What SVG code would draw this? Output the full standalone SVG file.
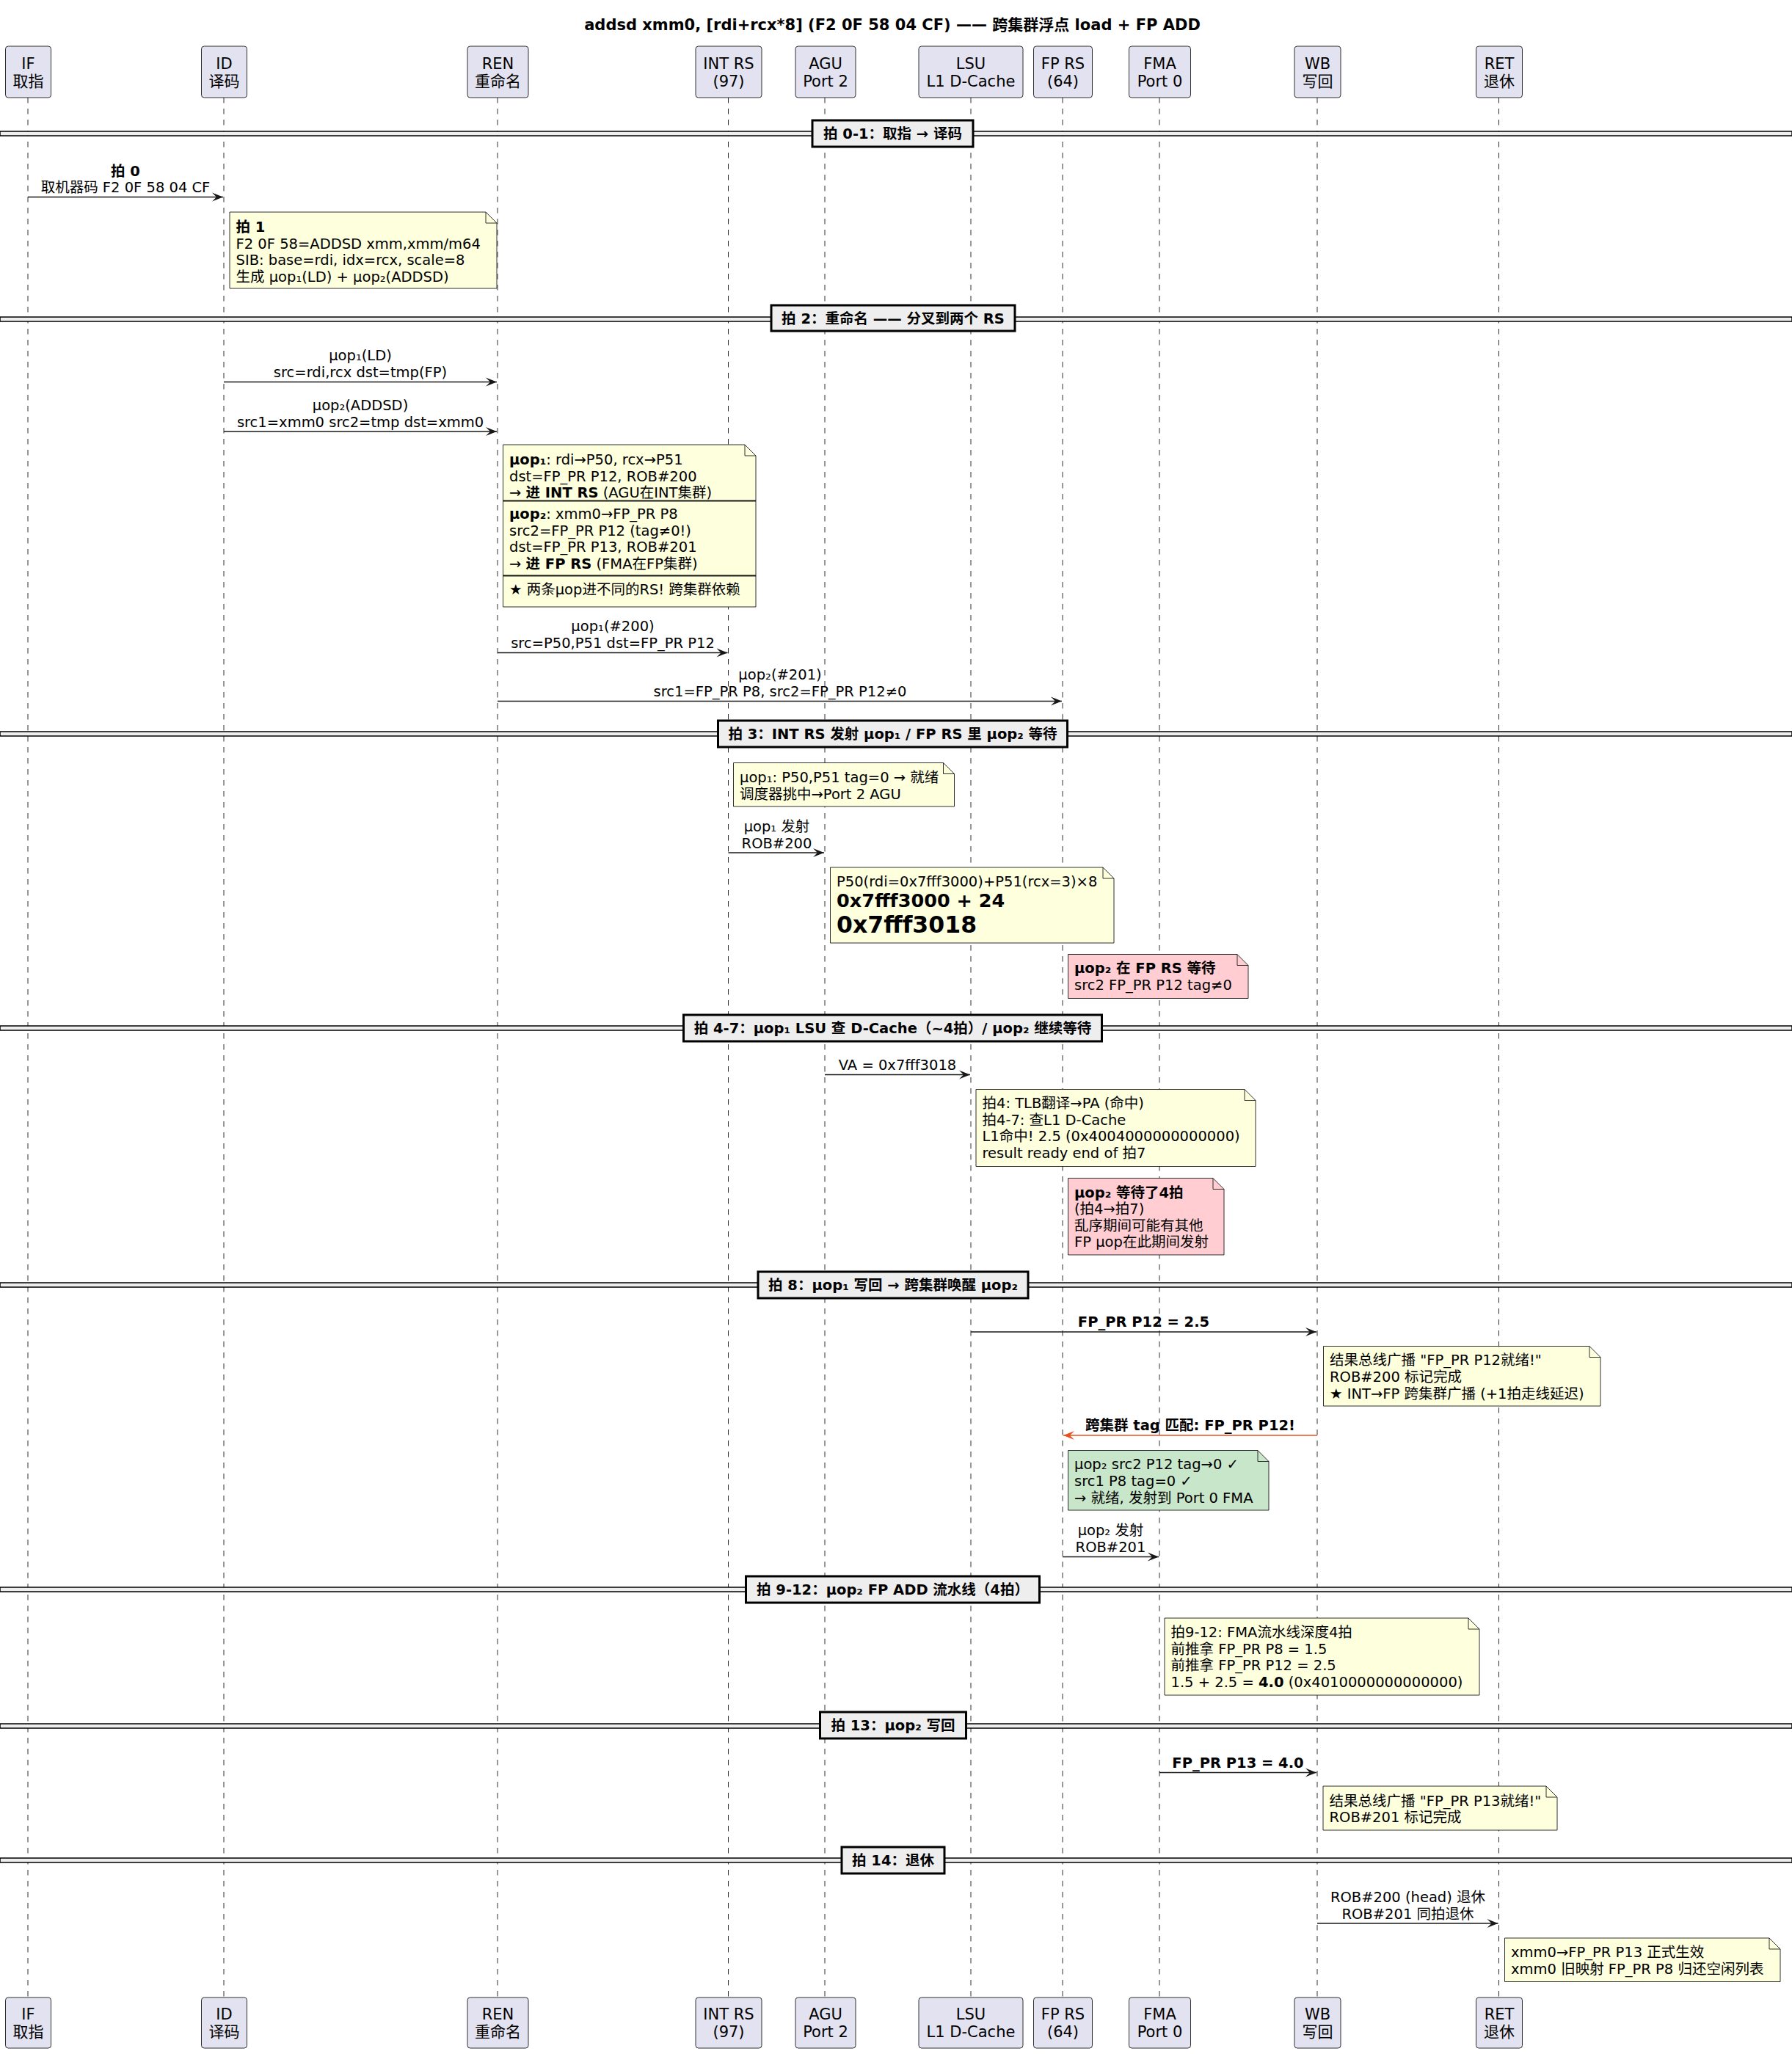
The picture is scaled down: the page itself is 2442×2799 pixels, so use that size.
<svg xmlns="http://www.w3.org/2000/svg" width="2442" height="2799" viewBox="0 0 2442 2799">
<style>
text{font-family:"DejaVu Sans","Noto Sans CJK SC",sans-serif;fill:#000}
.t{font-size:19.5px}
.b{font-weight:bold}
.m{text-anchor:middle}
.title{font-size:21px;font-weight:bold;text-anchor:middle}
.pt{font-size:21px;text-anchor:middle}
.pbox{fill:#E2E2F0;stroke:#181818;stroke-width:0.9}
.life{stroke:#181818;stroke-width:0.9;stroke-dasharray:7.5,7.5;fill:none}
.sepl{fill:#EEEEEE;stroke:#000;stroke-width:1.5}
.sepb{fill:#EEEEEE;stroke:#000;stroke-width:3}
.note{fill:#FEFFDD;stroke:#181818;stroke-width:0.9}
.pink{fill:#FFCDD2;stroke:#181818;stroke-width:0.9}
.green{fill:#C8E6C9;stroke:#181818;stroke-width:0.9}
.fold{fill:none;stroke:#181818;stroke-width:0.9}
.msg{stroke:#181818;stroke-width:1.5;fill:none;marker-end:url(#ah)}
.red{stroke:#E8501F;stroke-width:1.5;fill:none;marker-end:url(#ahr)}
</style>
<defs>
<marker id="ah" viewBox="-16 -7 17 14" refX="0" refY="0" markerWidth="17" markerHeight="14" markerUnits="userSpaceOnUse" orient="auto"><path d="M0,0 L-15,-6 L-9,0 L-15,6 Z" fill="#181818"/></marker>
<marker id="ahr" viewBox="-16 -7 17 14" refX="0" refY="0" markerWidth="17" markerHeight="14" markerUnits="userSpaceOnUse" orient="auto"><path d="M0,0 L-15,-6 L-9,0 L-15,6 Z" fill="#E8501F"/></marker>
</defs>
<rect x="0" y="0" width="2442" height="2799" fill="#FFFFFF"/>
<text class="title" x="1216" y="41">addsd xmm0, [rdi+rcx*8] (F2 0F 58 04 CF) —— 跨集群浮点 load + FP ADD</text>

<g id="lifelines">
<line class="life" x1="38" y1="133" x2="38" y2="2722"/>
<line class="life" x1="305" y1="133" x2="305" y2="2722"/>
<line class="life" x1="678" y1="133" x2="678" y2="2722"/>
<line class="life" x1="992.5" y1="133" x2="992.5" y2="2722"/>
<line class="life" x1="1124" y1="133" x2="1124" y2="2722"/>
<line class="life" x1="1323" y1="133" x2="1323" y2="2722"/>
<line class="life" x1="1448" y1="133" x2="1448" y2="2722"/>
<line class="life" x1="1580" y1="133" x2="1580" y2="2722"/>
<line class="life" x1="1795" y1="133" x2="1795" y2="2722"/>
<line class="life" x1="2042.5" y1="133" x2="2042.5" y2="2722"/>
</g>

<g id="p-IF">
<rect class="pbox" x="7.5" y="63" width="62" height="70" rx="3.75"/>
<text class="pt" x="38.5" y="94">IF</text><text class="pt" x="38.5" y="118">取指</text>
<rect class="pbox" x="7.5" y="2722" width="62" height="69" rx="3.75"/>
<text class="pt" x="38.5" y="2752">IF</text><text class="pt" x="38.5" y="2776">取指</text>
</g>
<g id="p-ID">
<rect class="pbox" x="274.5" y="63" width="62" height="70" rx="3.75"/>
<text class="pt" x="305.5" y="94">ID</text><text class="pt" x="305.5" y="118">译码</text>
<rect class="pbox" x="274.5" y="2722" width="62" height="69" rx="3.75"/>
<text class="pt" x="305.5" y="2752">ID</text><text class="pt" x="305.5" y="2776">译码</text>
</g>
<g id="p-REN">
<rect class="pbox" x="637" y="63" width="83" height="70" rx="3.75"/>
<text class="pt" x="678.5" y="94">REN</text><text class="pt" x="678.5" y="118">重命名</text>
<rect class="pbox" x="637" y="2722" width="83" height="69" rx="3.75"/>
<text class="pt" x="678.5" y="2752">REN</text><text class="pt" x="678.5" y="2776">重命名</text>
</g>
<g id="p-INTRS">
<rect class="pbox" x="948" y="63" width="90" height="70" rx="3.75"/>
<text class="pt" x="993" y="94">INT RS</text><text class="pt" x="993" y="118">(97)</text>
<rect class="pbox" x="948" y="2722" width="90" height="69" rx="3.75"/>
<text class="pt" x="993" y="2752">INT RS</text><text class="pt" x="993" y="2776">(97)</text>
</g>
<g id="p-AGU">
<rect class="pbox" x="1084" y="63" width="82" height="70" rx="3.75"/>
<text class="pt" x="1125" y="94">AGU</text><text class="pt" x="1125" y="118">Port 2</text>
<rect class="pbox" x="1084" y="2722" width="82" height="69" rx="3.75"/>
<text class="pt" x="1125" y="2752">AGU</text><text class="pt" x="1125" y="2776">Port 2</text>
</g>
<g id="p-LSU">
<rect class="pbox" x="1252" y="63" width="142" height="70" rx="3.75"/>
<text class="pt" x="1323" y="94">LSU</text><text class="pt" x="1323" y="118">L1 D-Cache</text>
<rect class="pbox" x="1252" y="2722" width="142" height="69" rx="3.75"/>
<text class="pt" x="1323" y="2752">LSU</text><text class="pt" x="1323" y="2776">L1 D-Cache</text>
</g>
<g id="p-FPRS">
<rect class="pbox" x="1408.5" y="63" width="80" height="70" rx="3.75"/>
<text class="pt" x="1448.5" y="94">FP RS</text><text class="pt" x="1448.5" y="118">(64)</text>
<rect class="pbox" x="1408.5" y="2722" width="80" height="69" rx="3.75"/>
<text class="pt" x="1448.5" y="2752">FP RS</text><text class="pt" x="1448.5" y="2776">(64)</text>
</g>
<g id="p-FMA">
<rect class="pbox" x="1538.5" y="63" width="84" height="70" rx="3.75"/>
<text class="pt" x="1580.5" y="94">FMA</text><text class="pt" x="1580.5" y="118">Port 0</text>
<rect class="pbox" x="1538.5" y="2722" width="84" height="69" rx="3.75"/>
<text class="pt" x="1580.5" y="2752">FMA</text><text class="pt" x="1580.5" y="2776">Port 0</text>
</g>
<g id="p-WB">
<rect class="pbox" x="1764" y="63" width="63" height="70" rx="3.75"/>
<text class="pt" x="1795.5" y="94">WB</text><text class="pt" x="1795.5" y="118">写回</text>
<rect class="pbox" x="1764" y="2722" width="63" height="69" rx="3.75"/>
<text class="pt" x="1795.5" y="2752">WB</text><text class="pt" x="1795.5" y="2776">写回</text>
</g>
<g id="p-RET">
<rect class="pbox" x="2011.5" y="63" width="63" height="70" rx="3.75"/>
<text class="pt" x="2043" y="94">RET</text><text class="pt" x="2043" y="118">退休</text>
<rect class="pbox" x="2011.5" y="2722" width="63" height="69" rx="3.75"/>
<text class="pt" x="2043" y="2752">RET</text><text class="pt" x="2043" y="2776">退休</text>
</g>

<g id="dividers">
<rect class="sepl" x="0" y="179" width="2442" height="6"/>
<rect class="sepb" x="1107" y="164" width="219" height="36"/>
<text class="t b m" x="1216.5" y="189">拍 0-1：取指 → 译码</text>

<rect class="sepl" x="0" y="432" width="2442" height="6"/>
<rect class="sepb" x="1051" y="416" width="332" height="35"/>
<text class="t b m" x="1217" y="441">拍 2：重命名 —— 分叉到两个 RS</text>

<rect class="sepl" x="0" y="997" width="2442" height="6"/>
<rect class="sepb" x="978.5" y="982" width="476" height="36"/>
<text class="t b m" x="1216.5" y="1007">拍 3：INT RS 发射 μop₁ / FP RS 里 μop₂ 等待</text>

<rect class="sepl" x="0" y="1398" width="2442" height="6"/>
<rect class="sepb" x="931.5" y="1383" width="570" height="36"/>
<text class="t b m" x="1216.5" y="1408">拍 4-7：μop₁ LSU 查 D-Cache（~4拍）/ μop₂ 继续等待</text>

<rect class="sepl" x="0" y="1748" width="2442" height="6"/>
<rect class="sepb" x="1033" y="1733" width="368" height="36"/>
<text class="t b m" x="1217" y="1758">拍 8：μop₁ 写回 → 跨集群唤醒 μop₂</text>

<rect class="sepl" x="0" y="2163" width="2442" height="6"/>
<rect class="sepb" x="1016.5" y="2148" width="400" height="36"/>
<text class="t b m" x="1216.5" y="2173">拍 9-12：μop₂ FP ADD 流水线（4拍）</text>

<rect class="sepl" x="0" y="2349" width="2442" height="6"/>
<rect class="sepb" x="1117.5" y="2333" width="199" height="36"/>
<text class="t b m" x="1217" y="2358">拍 13：μop₂ 写回</text>

<rect class="sepl" x="0" y="2532" width="2442" height="6"/>
<rect class="sepb" x="1147" y="2517" width="140" height="36"/>
<text class="t b m" x="1217" y="2542">拍 14：退休</text>
</g>

<g id="n1">
<path class="note" d="M313,289 L313,393 L677,393 L677,304 L662,289 Z"/><path class="fold" d="M662,289 L662,304 L677,304"/>
<text class="t" x="321.5" y="316"><tspan class="b">拍 1</tspan></text>
<text class="t" x="321.5" y="338.5">F2 0F 58=ADDSD xmm,xmm/m64</text>
<text class="t" x="321.5" y="361">SIB: base=rdi, idx=rcx, scale=8</text>
<text class="t" x="321.5" y="383.5">生成 μop₁(LD) + μop₂(ADDSD)</text>
</g>

<g id="n2">
<path class="note" d="M685.5,606 L685.5,827 L1030,827 L1030,621 L1015,606 Z"/><path class="fold" d="M1015,606 L1015,621 L1030,621"/>
<line x1="685.5" y1="682.5" x2="1030" y2="682.5" stroke="#181818" stroke-width="2"/>
<line x1="685.5" y1="784.5" x2="1030" y2="784.5" stroke="#181818" stroke-width="2"/>
<text class="t" x="694" y="633"><tspan class="b">μop₁</tspan>: rdi→P50, rcx→P51</text>
<text class="t" x="694" y="655.5">dst=FP_PR P12, ROB#200</text>
<text class="t" x="694" y="678">→ <tspan class="b">进 INT RS</tspan> (AGU在INT集群)</text>
<text class="t" x="694" y="707"><tspan class="b">μop₂</tspan>: xmm0→FP_PR P8</text>
<text class="t" x="694" y="729.5">src2=FP_PR P12 (tag≠0!)</text>
<text class="t" x="694" y="752">dst=FP_PR P13, ROB#201</text>
<text class="t" x="694" y="774.5">→ <tspan class="b">进 FP RS</tspan> (FMA在FP集群)</text>
<text class="t" x="694" y="809.5">★ 两条μop进不同的RS! 跨集群依赖</text>
</g>

<g id="n3">
<path class="note" d="M999.5,1039.5 L999.5,1099 L1300.5,1099 L1300.5,1054.5 L1285.5,1039.5 Z"/><path class="fold" d="M1285.5,1039.5 L1285.5,1054.5 L1300.5,1054.5"/>
<text class="t" x="1008" y="1066">μop₁: P50,P51 tag=0 → 就绪</text>
<text class="t" x="1008" y="1088.5">调度器挑中→Port 2 AGU</text>
</g>

<g id="n4">
<path class="note" d="M1131.5,1182 L1131.5,1285 L1518,1285 L1518,1197 L1503,1182 Z"/><path class="fold" d="M1503,1182 L1503,1197 L1518,1197"/>
<text class="t" x="1140" y="1208">P50(rdi=0x7fff3000)+P51(rcx=3)×8</text>
<text class="b" x="1140" y="1236" font-size="25.5">0x7fff3000 + 24</text>
<text class="b" x="1140" y="1271" font-size="31.5">0x7fff3018</text>
</g>

<g id="n5">
<path class="pink" d="M1455.5,1300.5 L1455.5,1360.5 L1701,1360.5 L1701,1315.5 L1686,1300.5 Z"/><path class="fold" d="M1686,1300.5 L1686,1315.5 L1701,1315.5"/>
<text class="t b" x="1464" y="1326">μop₂ 在 FP RS 等待</text>
<text class="t" x="1464" y="1349">src2 FP_PR P12 tag≠0</text>
</g>

<g id="n6">
<path class="note" d="M1330,1484.5 L1330,1589.5 L1711,1589.5 L1711,1499.5 L1696,1484.5 Z"/><path class="fold" d="M1696,1484.5 L1696,1499.5 L1711,1499.5"/>
<text class="t" x="1338.5" y="1510">拍4: TLB翻译→PA (命中)</text>
<text class="t" x="1338.5" y="1532.5">拍4-7: 查L1 D-Cache</text>
<text class="t" x="1338.5" y="1555">L1命中! 2.5 (0x4004000000000000)</text>
<text class="t" x="1338.5" y="1577.5">result ready end of 拍7</text>
</g>

<g id="n7">
<path class="pink" d="M1455.5,1605.5 L1455.5,1710 L1668,1710 L1668,1620.5 L1653,1605.5 Z"/><path class="fold" d="M1653,1605.5 L1653,1620.5 L1668,1620.5"/>
<text class="t b" x="1464" y="1631.5">μop₂ 等待了4拍</text>
<text class="t" x="1464" y="1654">(拍4→拍7)</text>
<text class="t" x="1464" y="1676.5">乱序期间可能有其他</text>
<text class="t" x="1464" y="1699">FP μop在此期间发射</text>
</g>

<g id="n8">
<path class="note" d="M1803.5,1834.5 L1803.5,1916 L2181,1916 L2181,1849.5 L2166,1834.5 Z"/><path class="fold" d="M2166,1834.5 L2166,1849.5 L2181,1849.5"/>
<text class="t" x="1812" y="1860">结果总线广播 "FP_PR P12就绪!"</text>
<text class="t" x="1812" y="1883">ROB#200 标记完成</text>
<text class="t" x="1812" y="1905.5">★ INT→FP 跨集群广播 (+1拍走线延迟)</text>
</g>

<g id="n9">
<path class="green" d="M1455.5,1976.5 L1455.5,2058 L1729,2058 L1729,1991.5 L1714,1976.5 Z"/><path class="fold" d="M1714,1976.5 L1714,1991.5 L1729,1991.5"/>
<text class="t" x="1464" y="2002">μop₂ src2 P12 tag→0 ✓</text>
<text class="t" x="1464" y="2025">src1 P8 tag=0 ✓</text>
<text class="t" x="1464" y="2047.5">→ 就绪, 发射到 Port 0 FMA</text>
</g>

<g id="n10">
<path class="note" d="M1587,2205 L1587,2310 L2016,2310 L2016,2220 L2001,2205 Z"/><path class="fold" d="M2001,2205 L2001,2220 L2016,2220"/>
<text class="t" x="1595.5" y="2231">拍9-12: FMA流水线深度4拍</text>
<text class="t" x="1595.5" y="2253.5">前推拿 FP_PR P8 = 1.5</text>
<text class="t" x="1595.5" y="2276">前推拿 FP_PR P12 = 2.5</text>
<text class="t" x="1595.5" y="2298.5">1.5 + 2.5 = <tspan class="b">4.0</tspan> (0x4010000000000000)</text>
</g>

<g id="n11">
<path class="note" d="M1803,2434 L1803,2494 L2122,2494 L2122,2449 L2107,2434 Z"/><path class="fold" d="M2107,2434 L2107,2449 L2122,2449"/>
<text class="t" x="1811.5" y="2460.5">结果总线广播 "FP_PR P13就绪!"</text>
<text class="t" x="1811.5" y="2483">ROB#201 标记完成</text>
</g>

<g id="n12">
<path class="note" d="M2050.5,2641 L2050.5,2700.5 L2426,2700.5 L2426,2656 L2411,2641 Z"/><path class="fold" d="M2411,2641 L2411,2656 L2426,2656"/>
<text class="t" x="2059" y="2667">xmm0→FP_PR P13 正式生效</text>
<text class="t" x="2059" y="2689.5">xmm0 旧映射 FP_PR P8 归还空闲列表</text>
</g>

<g id="connectors">
<line class="msg" x1="38" y1="268.5" x2="304" y2="268.5"/>
<text class="t b m" x="171" y="239.5">拍 0</text>
<text class="t m" x="171" y="262">取机器码 F2 0F 58 04 CF</text>

<line class="msg" x1="305" y1="520.5" x2="677" y2="520.5"/>
<text class="t m" x="491" y="491">μop₁(LD)</text>
<text class="t m" x="491" y="514">src=rdi,rcx dst=tmp(FP)</text>

<line class="msg" x1="305" y1="588" x2="677" y2="588"/>
<text class="t m" x="491" y="558.5">μop₂(ADDSD)</text>
<text class="t m" x="491" y="581.5">src1=xmm0 src2=tmp dst=xmm0</text>

<line class="msg" x1="678" y1="889.5" x2="991.5" y2="889.5"/>
<text class="t m" x="835" y="859.5">μop₁(#200)</text>
<text class="t m" x="835" y="882.5">src=P50,P51 dst=FP_PR P12</text>

<line class="msg" x1="678" y1="955.5" x2="1447" y2="955.5"/>
<text class="t m" x="1063" y="926">μop₂(#201)</text>
<text class="t m" x="1063" y="949">src1=FP_PR P8, src2=FP_PR P12≠0</text>

<line class="msg" x1="992.5" y1="1162" x2="1123" y2="1162"/>
<text class="t m" x="1058.5" y="1132.5">μop₁ 发射</text>
<text class="t m" x="1058.5" y="1155.5">ROB#200</text>

<line class="msg" x1="1124" y1="1464.5" x2="1322" y2="1464.5"/>
<text class="t m" x="1223" y="1457.5">VA = 0x7fff3018</text>

<line class="msg" x1="1323" y1="1815" x2="1794" y2="1815"/>
<text class="t b m" x="1558.5" y="1808">FP_PR P12 = 2.5</text>

<line class="red" x1="1795" y1="1956" x2="1449" y2="1956"/>
<text class="t b m" x="1622" y="1949">跨集群 tag 匹配: FP_PR P12!</text>

<line class="msg" x1="1448" y1="2121.5" x2="1579" y2="2121.5"/>
<text class="t m" x="1513.5" y="2092">μop₂ 发射</text>
<text class="t m" x="1513.5" y="2115">ROB#201</text>

<line class="msg" x1="1580" y1="2415.5" x2="1794" y2="2415.5"/>
<text class="t b m" x="1687" y="2408.5">FP_PR P13 = 4.0</text>

<line class="msg" x1="1795" y1="2621" x2="2041.5" y2="2621"/>
<text class="t m" x="1918.5" y="2591.5">ROB#200 (head) 退休</text>
<text class="t m" x="1918.5" y="2614.5">ROB#201 同拍退休</text>
</g>
</svg>
